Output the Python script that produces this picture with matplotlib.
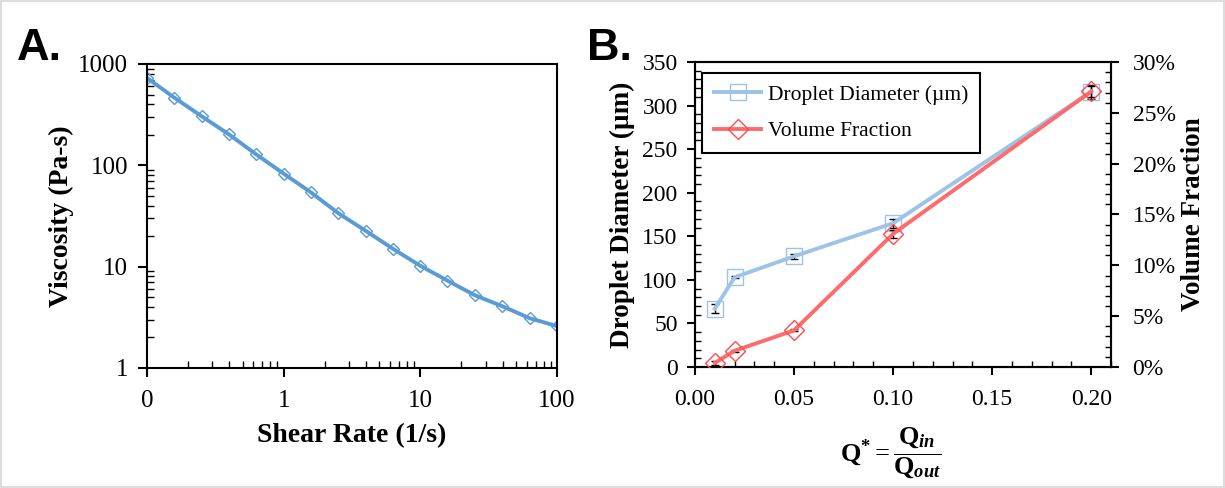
import matplotlib
matplotlib.use("Agg")
import matplotlib.pyplot as plt
from matplotlib.lines import Line2D
from matplotlib.ticker import FixedLocator, NullFormatter, MultipleLocator, FuncFormatter, LogLocator

plt.rcParams['font.family'] = ['Liberation Serif', 'DejaVu Serif']
plt.rcParams['mathtext.fontset'] = 'custom'
plt.rcParams['mathtext.rm'] = 'Liberation Serif'
plt.rcParams['mathtext.it'] = 'Liberation Serif:italic'
plt.rcParams['mathtext.bf'] = 'Liberation Serif:bold'
plt.rcParams['mathtext.bfit'] = 'Liberation Serif:bold:italic'

# panel A: viscosity vs shear rate
shear_rate = [0.1, 0.158, 0.251, 0.398, 0.631, 1.0, 1.58, 2.51, 3.98, 6.31,
              10.0, 15.8, 25.1, 39.8, 63.1, 100.0]
viscosity = [728, 467, 305, 202, 128, 82.8, 54.2, 33.7, 22.6, 15.0,
             10.2, 7.28, 5.22, 4.07, 3.10, 2.59]
a_xticks = [0.1, 1, 10, 100]
a_xticklabels = ['0', '1', '10', '100']

# panel B: droplet diameter and volume fraction vs Q*
q_star = [0.01, 0.02, 0.05, 0.10, 0.20]
diameter = [67, 103, 127, 165, 316]
diameter_err = [5, 1, 3, 5, 8]
vol_frac = [0.4, 1.6, 3.6, 13.1, 27.1]
vol_frac_err = [0.2, 0.1, 0.1, 0.4, 0.5]

blue_a = '#5b9bd5'
blue_b = '#9dc3e6'
red_b = '#ff6b6b'

W, H = 1225, 488
fig = plt.figure(figsize=(W/100, H/100), dpi=100)
fig.patch.set_edgecolor('#dddddd')
fig.patch.set_linewidth(1.5)

def box(l, t, r, b):
    return [l/W, 1-b/H, (r-l)/W, (b-t)/H]

# ---------- A ----------
ax = fig.add_axes(box(147, 64, 557, 368))
ax.plot(shear_rate, viscosity, color=blue_a, lw=2.8, marker='D', ms=6.5,
        mfc='none', mec=blue_a, mew=1.0)
ax.set_xscale('log')
ax.set_yscale('log')
ax.set_xlim(0.1, 100)
ax.set_ylim(1, 1000)
ax.set_xticks(a_xticks)
ax.set_xticklabels(a_xticklabels)
ax.set_yticks([1, 10, 100, 1000])
ax.set_yticklabels(['1', '10', '100', '1000'])
ax.xaxis.set_minor_locator(LogLocator(base=10, subs=range(2, 10)))
ax.yaxis.set_minor_locator(LogLocator(base=10, subs=range(2, 10)))
ax.xaxis.set_minor_formatter(NullFormatter())
ax.yaxis.set_minor_formatter(NullFormatter())
ax.tick_params(which='major', direction='out', length=6.5, width=1.5, labelsize=18)
ax.tick_params(which='minor', direction='in', length=5, width=1.0)
ax.tick_params(axis='x', which='major', pad=9)
ax.tick_params(axis='y', which='major', pad=7)
for s in ax.spines.values():
    s.set_linewidth(1.5)
ax.set_xlabel('Shear Rate (1/s)', fontsize=20, fontweight='bold', labelpad=8)
ax.set_ylabel('Viscosity (Pa-s)', fontsize=20, fontweight='bold', labelpad=3)
fig.text(17/W, 1-60/H, 'A.', fontsize=32.5, fontweight='bold', va='baseline',
         family=['Liberation Sans', 'DejaVu Sans'])

# ---------- B ----------
bx = fig.add_axes(box(695, 62, 1111, 367))
bx2 = bx.twinx()
bx.errorbar(q_star, diameter, yerr=diameter_err, color=blue_b, lw=2.8,
            marker='s', ms=11, mfc='none', mec=blue_b, mew=1.0,
            ecolor='black', elinewidth=1, capsize=3, capthick=1, zorder=3)
bx2.errorbar(q_star, vol_frac, yerr=vol_frac_err, color=red_b, lw=2.8,
             marker='D', ms=10, mfc='none', mec='#ff4d4d', mew=1.0,
             ecolor='black', elinewidth=1, capsize=3, capthick=1, zorder=3)
bx.set_xlim(0, 0.21)
bx.set_ylim(0, 350)
bx2.set_ylim(0, 30)
bx.xaxis.set_major_locator(FixedLocator([0, 0.05, 0.10, 0.15, 0.20]))
bx.xaxis.set_major_formatter(FuncFormatter(lambda v, p: f'{v:.2f}'))
bx.xaxis.set_minor_locator(MultipleLocator(0.01))
bx.yaxis.set_major_locator(MultipleLocator(50))
bx.yaxis.set_minor_locator(MultipleLocator(10))
bx2.yaxis.set_major_locator(MultipleLocator(5))
bx2.yaxis.set_minor_locator(MultipleLocator(1))
bx2.yaxis.set_major_formatter(FuncFormatter(lambda v, p: f'{v:.0f}%'))
for a in (bx, bx2):
    a.tick_params(which='major', direction='out', length=5.5, width=1.5, labelsize=17)
    a.tick_params(which='minor', direction='in', length=4, width=1.0)
    for s in a.spines.values():
        s.set_linewidth(1.5)
bx.tick_params(axis='x', which='major', pad=10)
bx.tick_params(axis='y', which='major', pad=7)
bx2.tick_params(axis='y', which='major', pad=10)
bx.set_ylabel('Droplet Diameter (µm)', fontsize=19.5, fontweight='bold', labelpad=5)
bx2.set_ylabel('Volume Fraction', fontsize=19.5, fontweight='bold', labelpad=4)
bx.set_xlabel(r'$\mathbf{Q^{*}} = \dfrac{\mathbf{Q}_{\mathbfit{in}}}{\mathbf{Q}_{\mathbfit{out}}}$',
              fontsize=19)
bx.xaxis.set_label_coords(0.469, -0.19, transform=bx.transAxes)
bx.xaxis.label.set_va('top')
h1 = Line2D([], [], color=blue_b, lw=2.8, marker='s', ms=11, mfc='none', mec=blue_b, mew=1.0)
h2 = Line2D([], [], color=red_b, lw=2.8, marker='D', ms=10, mfc='none', mec='#ff4d4d', mew=1.0)
leg = bx.legend([h1, h2], ['Droplet Diameter (µm)', 'Volume Fraction'],
                loc='upper left', bbox_to_anchor=(0.017, 0.964), fontsize=15.5,
                frameon=True, fancybox=False, edgecolor='black', framealpha=1,
                handlelength=2.2, handletextpad=0.3, borderpad=0.55, labelspacing=0.75,
                borderaxespad=0)
leg.get_frame().set_linewidth(1.5)
fig.text(587/W, 1-60/H, 'B.', fontsize=32.5, fontweight='bold', va='baseline',
         family=['Liberation Sans', 'DejaVu Sans'])

fig.savefig('out.png', dpi=100)
